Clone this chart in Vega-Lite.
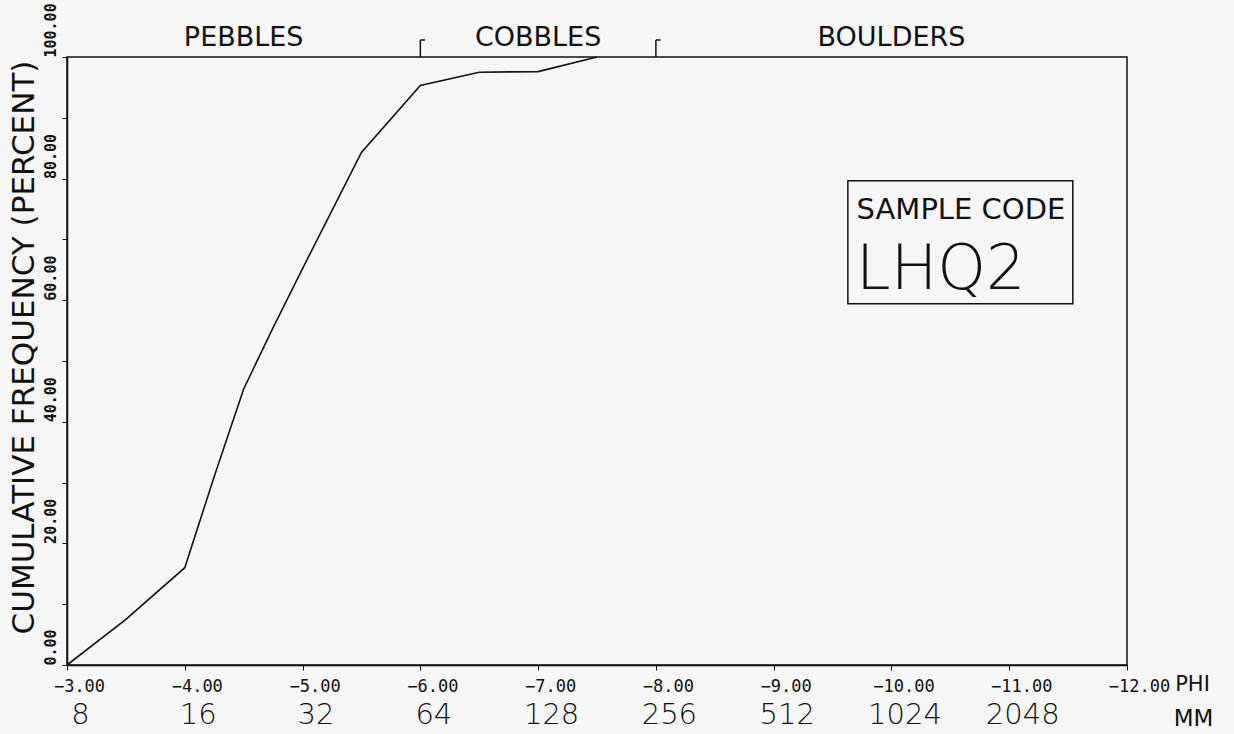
{
  "$schema": "https://vega.github.io/schema/vega-lite/v6.json",
  "width": 1060,
  "height": 608,
  "autosize": "none",
  "padding": {"left": 67, "top": 57, "right": 107, "bottom": 69},
  "background": "#f6f6f6",
  "config": {
    "view": {"stroke": "#111", "strokeWidth": 1.5},
    "axis": {"grid": false, "domainColor": "#111", "domainWidth": 1.5, "tickColor": "#111", "labelColor": "#111", "titleColor": "#111"}
  },
  "datasets": {
    "curve": [
      {"phi": -3, "pct": 0},
      {"phi": -3.5, "pct": 7.5},
      {"phi": -4, "pct": 16},
      {"phi": -4.25, "pct": 31},
      {"phi": -4.5, "pct": 45.4},
      {"phi": -4.75, "pct": 55.5},
      {"phi": -5, "pct": 65.2},
      {"phi": -5.5, "pct": 84.3},
      {"phi": -6, "pct": 95.3},
      {"phi": -6.5, "pct": 97.5},
      {"phi": -7, "pct": 97.6},
      {"phi": -7.5, "pct": 100}
    ],
    "classes": [
      {"phi": -4.5, "pct": 100, "label": "PEBBLES"},
      {"phi": -7.0, "pct": 100, "label": "COBBLES"},
      {"phi": -10.0, "pct": 100, "label": "BOULDERS"}
    ],
    "brackets": [
      {"x": -6, "x2": -6, "pct": 100, "y2": 102.8},
      {"x": -6, "x2": -6.04, "pct": 102.8, "y2": 102.8},
      {"x": -8, "x2": -8, "pct": 100, "y2": 102.8},
      {"x": -8, "x2": -8.04, "pct": 102.8, "y2": 102.8}
    ],
    "box": [
      {"x": -9.63, "x2": -11.54, "pct": 79.65, "y2": 59.4}
    ],
    "boxtext": [
      {"phi": -10.59, "pct": 73.3, "label": "SAMPLE CODE", "size": "small"},
      {"phi": -9.70, "pct": 61.8, "label": "LHQ2", "size": "big"}
    ]
  },
  "layer": [
    {
      "data": {"name": "curve"},
      "mark": {"type": "line", "color": "#111", "strokeWidth": 1.6},
      "encoding": {
        "x": {
          "field": "phi", "type": "quantitative",
          "scale": {"domain": [-12, -3], "reverse": true, "nice": false, "zero": false},
          "axis": {
            "orient": "bottom",
            "values": [-3, -4, -5, -6, -7, -8, -9, -10, -11, -12],
            "labelExpr": "format(datum.value, '.2f')",
            "labelFont": "DejaVu Sans Mono", "labelFontSize": 17,
            "labelOffset": 12, "labelPadding": 8, "tickSize": 5,
            "labelBaseline": "top", "labelFlush": false, "labelOverlap": false,
            "title": "PHI", "titleFont": "DejaVu Sans", "titleFontSize": 21, "titleFontWeight": "normal",
            "titleX": 1125, "titleY": 19, "titleAlign": "center", "titleBaseline": "middle", "titleAnchor": null
          }
        },
        "y": {
          "field": "pct", "type": "quantitative",
          "scale": {"domain": [0, 100], "nice": false},
          "axis": {
            "values": [0, 10, 20, 30, 40, 50, 60, 70, 80, 90, 100],
            "labelExpr": "datum.value % 20 == 0 ? format(datum.value, '.2f') : ''",
            "labelFont": "DejaVu Sans Mono", "labelFontSize": 15, "labelFontWeight": "bold",
            "labelAngle": -90, "labelAlign": "left", "labelBaseline": "alphabetic",
            "labelPadding": 7, "tickSize": 5, "labelOverlap": false, "labelFlush": false,
            "title": "CUMULATIVE FREQUENCY (PERCENT)", "titleFont": "DejaVu Sans", "titleFontSize": 31, "titleFontWeight": "normal",
            "titleAngle": 270, "titleX": -34, "titleY": 290, "titleAlign": "center", "titleBaseline": "alphabetic"
          }
        }
      }
    },
    {
      "data": {"name": "classes"},
      "mark": {"type": "text", "font": "DejaVu Sans", "fontSize": 27, "baseline": "alphabetic", "align": "center", "dy": -11, "color": "#111"},
      "encoding": {
        "x": {
          "field": "phi", "type": "quantitative",
          "axis": {
            "orient": "bottom",
            "values": [-3, -4, -5, -6, -7, -8, -9, -10, -11, -12],
            "labelExpr": "datum.value == -12 ? '' : format(pow(2, -datum.value), 'd')",
            "labelFont": "DejaVu Sans", "labelFontSize": 29, "labelFontWeight": 300, "labelOffset": 13,
            "labelPadding": 35, "ticks": false, "domain": false,
            "labelBaseline": "top", "labelFlush": false, "labelOverlap": false,
            "title": "MM", "titleFont": "DejaVu Sans", "titleFontSize": 23, "titleFontWeight": "normal",
            "titleX": 1126, "titleY": 53, "titleAlign": "center", "titleBaseline": "middle", "titleAnchor": null
          }
        },
        "y": {"field": "pct", "type": "quantitative"},
        "text": {"field": "label"}
      }
    },
    {
      "data": {"name": "brackets"},
      "mark": {"type": "rule", "color": "#111", "strokeWidth": 1.5},
      "encoding": {
        "x": {"field": "x", "type": "quantitative", "axis": null},
        "x2": {"field": "x2"},
        "y": {"field": "pct", "type": "quantitative"},
        "y2": {"field": "y2"}
      }
    },
    {
      "data": {"name": "box"},
      "mark": {"type": "rect", "fill": null, "fillOpacity": 0, "stroke": "#111", "strokeWidth": 1.5},
      "encoding": {
        "x": {"field": "x", "type": "quantitative", "axis": null},
        "x2": {"field": "x2"},
        "y": {"field": "pct", "type": "quantitative"},
        "y2": {"field": "y2"}
      }
    },
    {
      "data": {"name": "boxtext"},
      "transform": [{"filter": "datum.size == 'small'"}],
      "mark": {"type": "text", "font": "DejaVu Sans", "fontSize": 29, "baseline": "alphabetic", "align": "center", "color": "#111"},
      "encoding": {
        "x": {"field": "phi", "type": "quantitative", "axis": null},
        "y": {"field": "pct", "type": "quantitative"},
        "text": {"field": "label"}
      }
    },
    {
      "data": {"name": "boxtext"},
      "transform": [{"filter": "datum.size == 'big'"}],
      "mark": {"type": "text", "font": "DejaVu Sans", "fontSize": 62, "fontWeight": 200, "baseline": "alphabetic", "align": "left", "color": "#111"},
      "encoding": {
        "x": {"field": "phi", "type": "quantitative", "axis": null},
        "y": {"field": "pct", "type": "quantitative"},
        "text": {"field": "label"}
      }
    }
  ],
  "resolve": {"axis": {"x": "independent"}}
}
